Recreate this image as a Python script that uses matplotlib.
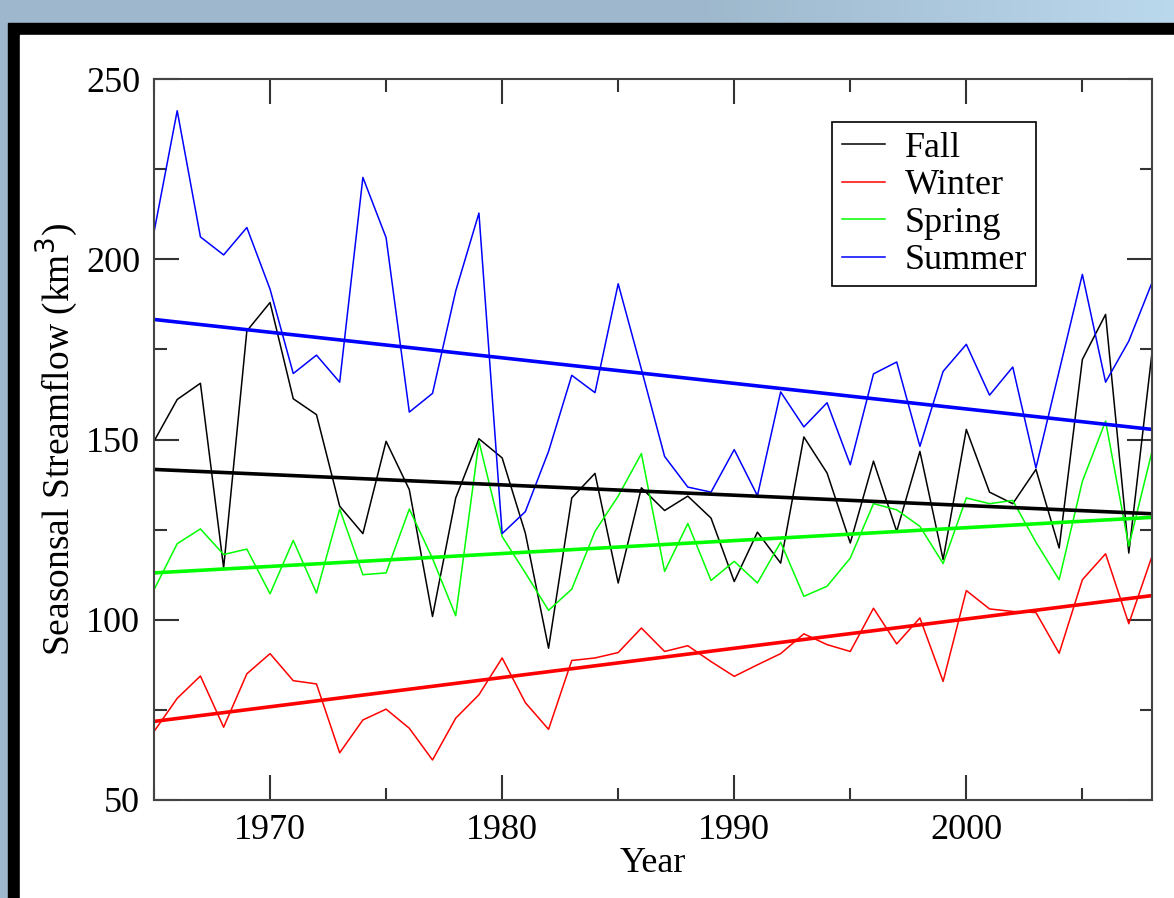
import numpy as np
import matplotlib
matplotlib.use("Agg")
import matplotlib.pyplot as plt
from matplotlib.patches import Rectangle
from matplotlib.ticker import MultipleLocator

# Datos por estación (km^3)
years = np.arange(1965, 2009)

fall = [149.5, 161.1, 165.6, 114.4, 180.1, 188.0, 161.3, 156.9, 131.5, 123.9,
        149.5, 136.1, 100.9, 133.8, 150.2, 144.9, 124.0, 92.1, 133.8, 140.6,
        110.2, 136.6, 130.3, 134.3, 128.2, 110.6, 124.3, 115.7, 150.7, 140.7,
        121.3, 144.0, 124.5, 146.7, 116.7, 152.8, 135.4, 132.2, 141.7, 119.9,
        172.2, 184.7, 118.5, 174.1]

winter = [69.0, 78.2, 84.4, 70.2, 85.0, 90.6, 83.1, 82.2, 63.1, 72.2,
          75.2, 69.9, 61.1, 72.7, 79.2, 89.4, 77.0, 69.6, 88.7, 89.4,
          90.9, 97.7, 91.2, 92.8, 88.4, 84.3, 87.5, 90.6, 96.1, 93.1,
          91.2, 103.2, 93.3, 100.5, 82.9, 108.1, 103.0, 102.3, 102.0, 90.7,
          111.1, 118.3, 98.9, 117.6]

spring = [108.3, 121.1, 125.2, 118.1, 119.6, 107.2, 122.0, 107.4, 130.7, 112.5,
          113.0, 130.7, 117.0, 101.1, 149.5, 123.1, 113.0, 102.6, 108.5, 124.5,
          134.3, 146.1, 113.4, 126.7, 110.9, 116.2, 110.2, 121.5, 106.5, 109.3,
          117.1, 132.2, 130.5, 125.9, 115.6, 133.8, 132.2, 133.1, 121.5, 111.1,
          138.4, 155.1, 120.4, 146.7]

summer = [207.5, 241.2, 206.2, 201.2, 208.8, 191.7, 168.3, 173.4, 165.9, 222.7,
          206.0, 157.6, 162.8, 191.2, 212.8, 123.9, 130.0, 146.7, 167.8, 163.0,
          193.2, 169.5, 145.3, 136.8, 135.4, 147.2, 134.4, 163.2, 153.5, 160.2,
          143.0, 168.2, 171.5, 148.1, 168.9, 176.4, 162.3, 170.1, 142.1, 169.0,
          195.8, 165.9, 177.3, 193.5]

# Tendencias lineales (valor en 1965 y en 2008)
trend_years = [1965, 2008]
trend_fall = [141.7, 129.4]
trend_winter = [71.8, 106.7]
trend_spring = [113.0, 128.4]
trend_summer = [183.3, 152.8]

series = [("Fall", fall, trend_fall, "black"),
          ("Winter", winter, trend_winter, "red"),
          ("Spring", spring, trend_spring, "#00ff00"),
          ("Summer", summer, trend_summer, "blue")]

plt.rcParams["font.family"] = ["Liberation Serif", "DejaVu Serif"]

fig = plt.figure(figsize=(11.74, 8.98), dpi=100)

# Fondo azulado con degradado
bg = fig.add_axes([0, 0, 1, 1], zorder=-10)
gx = np.linspace(0, 1, 200)
gy = np.linspace(0, 1, 50)
GX, GY = np.meshgrid(gx, gy)
base = np.array([0.62, 0.72, 0.80])
light = np.array([0.76, 0.88, 0.96])
w = np.clip((GX - 0.6) * 2.5, 0, 1)[..., None] * 0.8
img = base * (1 - w) + light * w
bg.imshow(img, aspect="auto", extent=[0, 1, 0, 1])
bg.axis("off")

# Marco negro y panel blanco
fig.patches.append(Rectangle((8 / 1174, 0), 1, 1 - 23 / 898,
                             transform=fig.transFigure, color="black", zorder=-5))
fig.patches.append(Rectangle((20 / 1174, 0), 1, 1 - 35 / 898,
                             transform=fig.transFigure, color="white", zorder=-4))

ax = fig.add_axes([154 / 1174, 1 - 800 / 898, (1152 - 154) / 1174, (800 - 79) / 898])

for nombre, valores, tend, color in series:
    ax.plot(years, valores, color=color, lw=1.1, label=nombre)

# Líneas de tendencia
for nombre, valores, tend, color in series:
    ax.plot(trend_years, tend, color=color, lw=2.6)

ax.set_xlim(1965, 2008)
ax.set_ylim(50, 250)
ax.xaxis.set_major_locator(MultipleLocator(10))
ax.xaxis.set_minor_locator(MultipleLocator(5))
ax.yaxis.set_major_locator(MultipleLocator(50))
ax.yaxis.set_minor_locator(MultipleLocator(25))
ax.tick_params(which="both", direction="in", top=True, right=True,
               labelsize=26, width=1.5, color="#333333")
ax.tick_params(which="major", length=18, pad=10)
ax.tick_params(which="minor", length=9)
for s in ax.spines.values():
    s.set_linewidth(1.5)
    s.set_color("#444444")

ax.set_xlabel("Year", fontsize=26, labelpad=0)
ax.set_ylabel("Seasonsal Streamflow (km$^3$)", fontsize=27, labelpad=4)

leg = ax.legend(loc="upper right", bbox_to_anchor=(0.884, 0.94), fontsize=26,
                fancybox=False, framealpha=1, edgecolor="black",
                handlelength=1.2, handletextpad=0.55, borderpad=0.25,
                labelspacing=0.12, borderaxespad=0)
leg.get_frame().set_linewidth(1.2)

fig.savefig("out.png", dpi=100)
